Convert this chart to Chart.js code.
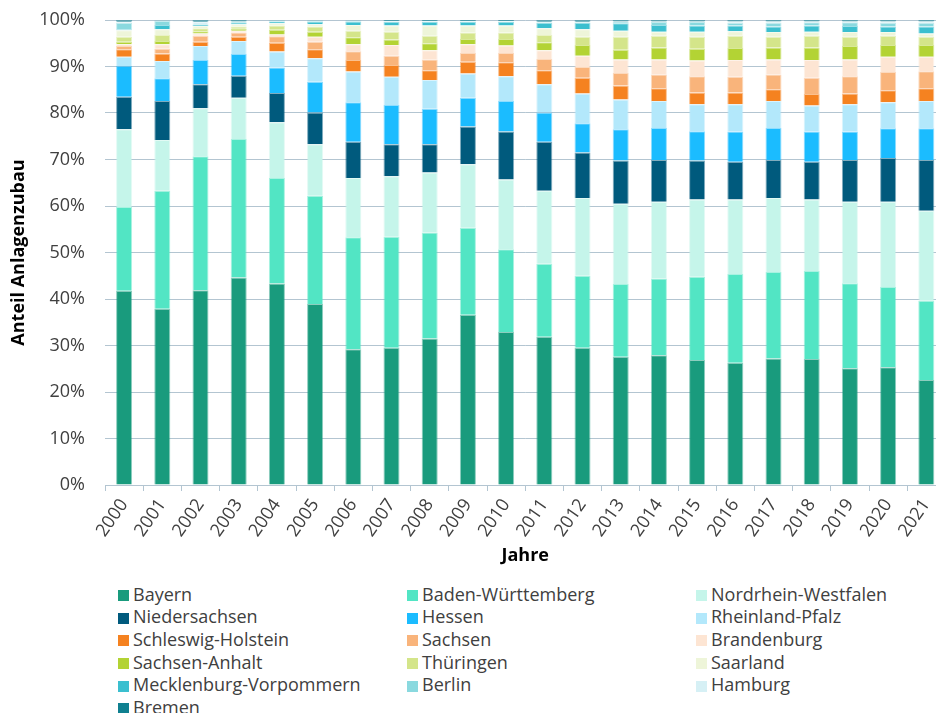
<!DOCTYPE html>
<html>
<head>
<meta charset="utf-8">
<script src="https://cdn.jsdelivr.net/npm/chart.js@4.4.1/dist/chart.umd.min.js"></script>
<style>
  html, body { margin: 0; padding: 0; background: #fff; overflow: hidden; width: 936px; height: 713px; }
  #chart { position: absolute; left: 0; top: 0; }
  #legend { position: absolute; left: 118px; top: 582.5px; width: 870px;
            display: grid; grid-template-columns: 289px 289px 289px;
            font-family: "Open Sans", sans-serif; font-size: 18px; color: #404040; }
  .item { height: 22.7px; line-height: 22.7px; white-space: nowrap; display: flex; align-items: center; }
  .box { width: 11px; height: 11px; margin-right: 4px; flex: none; position: relative; top: 1.5px; }
</style>
</head>
<body>
<canvas id="chart" width="948" height="567"></canvas>
<div id="legend"></div>
<script>
// Jahre
const years = ["2000","2001","2002","2003","2004","2005","2006","2007","2008","2009","2010",
               "2011","2012","2013","2014","2015","2016","2017","2018","2019","2020","2021"];

// Anteil am Anlagenzubau in %
const bayern            = [41.8,37.9,41.9,44.6,43.4,38.9,29.2,29.5,31.5,36.6,32.9,31.9,29.5,27.6,27.9,26.9,26.3,27.2,27.1,25.1,25.3,22.6];
const badenWuerttemberg = [18.0,25.4,28.8,29.8,22.7,23.3,24.1,23.9,22.8,18.7,17.8,15.7,15.5,15.6,16.5,17.9,19.1,18.6,18.9,18.3,17.3,17.0];
const nordrheinWestfalen= [16.7,10.9,10.3,8.9,12.0,11.1,12.7,13.0,12.9,13.7,15.0,15.7,16.7,17.3,16.5,16.6,16.0,15.9,15.4,17.5,18.3,19.4];
const niedersachsen     = [7.0,8.4,5.2,4.7,6.3,6.8,7.8,6.9,6.1,8.1,10.3,10.5,9.8,9.3,9.0,8.4,8.1,8.2,8.1,9.0,9.4,10.9];
const hessen            = [6.6,4.9,5.2,4.7,5.5,6.6,8.5,8.4,7.6,6.2,6.6,6.3,6.3,6.7,6.9,6.3,6.5,6.9,6.5,6.1,6.4,6.8];
const rheinlandPfalz    = [2.0,3.7,3.0,2.8,3.4,5.1,6.6,6.1,6.2,5.2,5.3,6.1,6.4,6.4,5.8,5.8,5.9,5.8,5.6,5.9,5.6,5.9];
const schleswigHolstein = [1.6,1.6,0.9,0.9,1.9,1.9,2.5,2.5,2.1,2.5,3.0,3.0,3.4,3.0,2.7,2.5,2.5,2.5,2.5,2.3,2.6,2.7];
const sachsen           = [0.7,1.0,1.3,0.9,1.4,1.6,1.9,2.0,2.3,1.9,2.0,2.4,2.3,2.7,3.0,3.5,3.4,3.2,3.5,3.7,3.9,3.7];
const brandenburg       = [0.4,1.0,0.5,0.4,0.4,1.1,1.5,2.3,2.0,1.9,1.6,1.9,2.4,2.9,3.2,3.4,3.6,3.2,3.8,3.6,3.3,3.1];
const sachsenAnhalt     = [0.5,0.7,0.5,0.4,1.0,1.1,1.5,1.2,1.5,1.1,1.4,1.7,2.3,2.1,2.6,2.5,2.6,2.6,2.7,2.9,2.5,2.5];
const thueringen        = [1.1,1.3,0.6,0.5,0.9,1.1,1.4,1.7,1.6,1.4,1.4,1.6,1.8,2.8,2.5,2.6,2.6,2.3,2.5,2.0,2.0,1.8];
const saarland          = [1.4,1.2,0.5,0.5,0.5,0.5,1.2,1.3,2.2,1.5,1.5,1.4,1.6,1.3,0.9,1.1,1.0,1.0,0.9,1.0,0.8,0.7];
const mecklenburgVp     = [0.2,0.9,0.2,0.3,0.4,0.6,0.8,0.8,0.8,0.8,0.8,1.2,1.4,1.6,1.4,1.3,1.2,1.2,1.3,1.3,1.2,1.5];
const berlin            = [1.4,0.9,0.2,0.2,0.1,0.1,0.1,0.1,0.1,0.1,0.1,0.1,0.1,0.3,0.7,0.8,0.6,0.8,0.7,0.8,0.8,0.8];
const hamburg           = [0.2,0.1,0.5,0.1,0.1,0.1,0.1,0.1,0.1,0.1,0.1,0.1,0.1,0.1,0.1,0.1,0.3,0.3,0.2,0.2,0.3,0.3];
const bremen            = [0.4,0.1,0.4,0.3,0.1,0.1,0.1,0.2,0.2,0.2,0.2,0.4,0.4,0.3,0.3,0.3,0.3,0.3,0.3,0.3,0.3,0.3];

const states = ["Bayern","Baden-Württemberg","Nordrhein-Westfalen","Niedersachsen","Hessen","Rheinland-Pfalz",
                "Schleswig-Holstein","Sachsen","Brandenburg","Sachsen-Anhalt","Thüringen","Saarland",
                "Mecklenburg-Vorpommern","Berlin","Hamburg","Bremen"];
const series = [bayern, badenWuerttemberg, nordrheinWestfalen, niedersachsen, hessen, rheinlandPfalz,
                schleswigHolstein, sachsen, brandenburg, sachsenAnhalt, thueringen, saarland,
                mecklenburgVp, berlin, hamburg, bremen];
const colors = ["#199b7d","#52e5c4","#c5f5ea","#005a7d","#1bbcff","#b3e8fb",
                "#f58220","#f9b47b","#fde5d3","#b3d334","#d4e58a","#eef5d9",
                "#3bbfcf","#8ad9df","#d6f0f5","#0f8090"];

const gridColor = "#b3c5d1";
const textColor = "#404040";

// shares per year scaled so each bar ends at 100 %
const totals = years.map((_, i) => series.reduce((s, arr) => s + arr[i], 0));

const datasets = states.map((name, k) => ({
  label: name,
  data: series[k].map((v, i) => v / totals[i] * 100),
  backgroundColor: colors[k],
  borderColor: colors[k] + "80",
  borderWidth: 1,
  categoryPercentage: 1,
  barPercentage: 0.42
}));

new Chart(document.getElementById("chart"), {
  type: "bar",
  data: { labels: years, datasets: datasets },
  options: {
    responsive: false,
    animation: false,
    layout: { padding: { top: 20, left: 0, right: 0, bottom: 0 } },
    plugins: { legend: { display: false }, tooltip: { enabled: false } },
    scales: {
      x: {
        stacked: true,
        grid: { display: true, drawOnChartArea: false, drawTicks: true, tickLength: 6, color: gridColor, offset: true },
        border: { display: true, color: gridColor },
        ticks: { autoSkip: false, minRotation: 55, maxRotation: 55, padding: 4, color: textColor,
                 font: { family: "Open Sans", size: 18 } },
        title: { display: true, text: "Jahre", color: "#000",
                 font: { family: "Open Sans", size: 18, weight: "bold" }, padding: { top: 8, bottom: 0 } },
        afterFit: (s) => { s.height = 82; }
      },
      y: {
        stacked: true,
        min: 0, max: 100,
        grid: { color: gridColor, drawTicks: true, tickLength: 20, tickColor: "rgba(0,0,0,0)" },
        border: { display: false },
        ticks: { stepSize: 10, padding: 0, color: textColor, callback: (v) => v + "%",
                 font: { family: "Open Sans", size: 18 } },
        title: { display: true, text: "Anteil Anlagenzubau", color: "#000",
                 font: { family: "Open Sans", size: 18, weight: "bold" }, padding: { top: 8, bottom: 0 } },
        afterFit: (s) => { s.width = 105; }
      }
    }
  }
});

// legend in three columns, row by row
const legend = document.getElementById("legend");
states.forEach((name, k) => {
  const item = document.createElement("div");
  item.className = "item";
  item.innerHTML = '<span class="box" style="background:' + colors[k] + '"></span>' + name;
  legend.appendChild(item);
});
</script>
</body>
</html>
